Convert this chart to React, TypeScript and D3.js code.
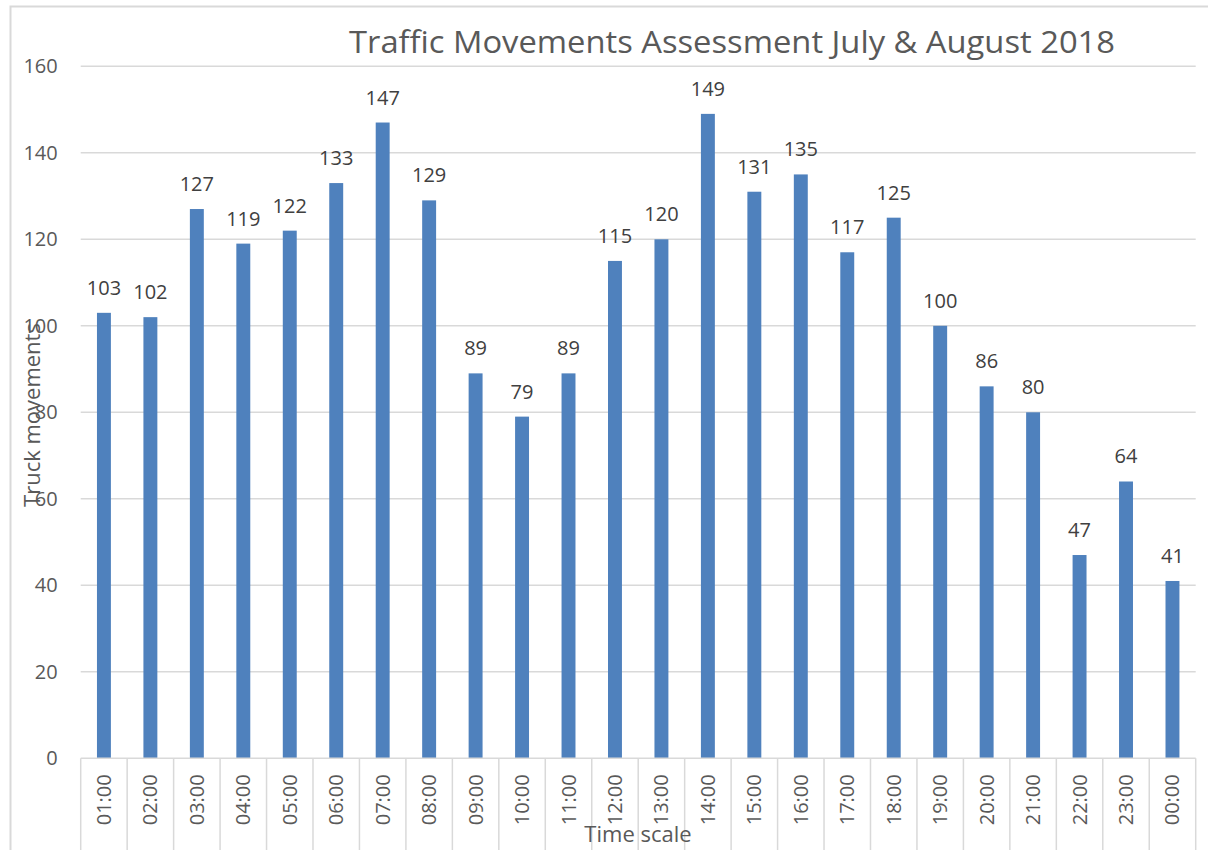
import React, { useEffect, useRef } from "react";
import * as d3 from "d3";

const hours = ["01:00", "02:00", "03:00", "04:00", "05:00", "06:00", "07:00", "08:00", "09:00", "10:00", "11:00", "12:00",
  "13:00", "14:00", "15:00", "16:00", "17:00", "18:00", "19:00", "20:00", "21:00", "22:00", "23:00", "00:00"];
const trucks = [103, 102, 127, 119, 122, 133, 147, 129, 89, 79, 89, 115, 120, 149, 131, 135, 117, 125, 100, 86, 80, 47, 64, 41];
const yTicks = [0, 20, 40, 60, 80, 100, 120, 140, 160];

const FONT = "'Open Sans', 'Liberation Sans', sans-serif";
const TEXT = "#595959";
const GRID = "#d9d9d9";

export default function App() {
  const ref = useRef<SVGSVGElement>(null);

  useEffect(() => {
    const width = 1208;
    const height = 850;
    const margin = { top: 66.3, right: 12.3, bottom: 91.7, left: 80.7 };
    const innerWidth = width - margin.left - margin.right;
    const innerHeight = height - margin.top - margin.bottom;

    const svg = d3.select(ref.current).attr("width", width).attr("height", height);
    svg.selectAll("*").remove();

    // chart area border
    svg.append("rect").attr("x", 10.5).attr("y", 6.5).attr("width", 1210).attr("height", 900)
      .attr("fill", "white").attr("stroke", GRID).attr("stroke-width", 2);

    const g = svg.append("g").attr("transform", `translate(${margin.left}, ${margin.top})`);

    const yScale = d3.scaleLinear().domain([0, 160]).range([innerHeight, 0]);
    const xScale = d3.scaleBand().domain(hours).range([0, innerWidth]).paddingInner(0.7).paddingOuter(0.35);
    const band = innerWidth / hours.length;

    // gridlines
    g.selectAll(".grid").data(yTicks.filter(d => d > 0)).join("line").attr("class", "grid")
      .attr("x1", 0).attr("x2", innerWidth)
      .attr("y1", d => yScale(d)).attr("y2", d => yScale(d))
      .attr("stroke", GRID).attr("stroke-width", 1.5);

    // y tick labels
    g.selectAll(".ytick").data(yTicks).join("text").attr("class", "ytick")
      .attr("x", -23).attr("y", d => yScale(d)).attr("dy", "0.35em")
      .attr("text-anchor", "end").attr("font-family", FONT).attr("font-size", 20).attr("fill", TEXT)
      .text(d => d);

    // bars
    g.selectAll(".bar").data(trucks).join("rect").attr("class", "bar")
      .attr("x", (d, i) => xScale(hours[i])!).attr("y", d => yScale(d))
      .attr("width", xScale.bandwidth()).attr("height", d => innerHeight - yScale(d))
      .attr("fill", "#4f81bd");

    // data labels
    g.selectAll(".lbl").data(trucks).join("text").attr("class", "lbl")
      .attr("x", (d, i) => xScale(hours[i])! + xScale.bandwidth() / 2).attr("y", d => yScale(d) - 18)
      .attr("text-anchor", "middle").attr("font-family", FONT).attr("font-size", 20).attr("fill", "#404040")
      .text(d => d);

    // x axis line and category boxes
    g.append("line").attr("x1", 0).attr("x2", innerWidth).attr("y1", innerHeight).attr("y2", innerHeight)
      .attr("stroke", GRID).attr("stroke-width", 1.5);
    g.selectAll(".sep").data(d3.range(hours.length + 1)).join("line").attr("class", "sep")
      .attr("x1", i => i * band).attr("x2", i => i * band)
      .attr("y1", innerHeight).attr("y2", innerHeight + 100)
      .attr("stroke", GRID).attr("stroke-width", 1.5);

    g.selectAll(".xtick").data(hours).join("text").attr("class", "xtick")
      .attr("transform", d => `translate(${xScale(d)! + xScale.bandwidth() / 2}, ${innerHeight + 16}) rotate(-90)`)
      .attr("dy", "0.35em").attr("text-anchor", "end")
      .attr("font-family", FONT).attr("font-size", 20).attr("fill", TEXT)
      .text(d => d);

    // titles
    svg.append("text").attr("x", 732).attr("y", 53).attr("text-anchor", "middle")
      .attr("font-family", FONT).attr("font-size", 31).attr("fill", TEXT)
      .attr("textLength", 766).attr("lengthAdjust", "spacingAndGlyphs")
      .text("Traffic Movements Assessment July & August 2018");

    svg.append("text").attr("transform", "translate(40, 415) rotate(-90)").attr("text-anchor", "middle")
      .attr("font-family", FONT).attr("font-size", 22).attr("fill", TEXT)
      .text("Truck movements");

    svg.append("text").attr("x", 638).attr("y", 842).attr("text-anchor", "middle")
      .attr("font-family", FONT).attr("font-size", 22).attr("fill", TEXT)
      .text("Time scale");
  }, []);

  return (
    <svg ref={ref} style={{ position: "absolute", left: 0, top: 0, display: "block" }}></svg>
  );
}
